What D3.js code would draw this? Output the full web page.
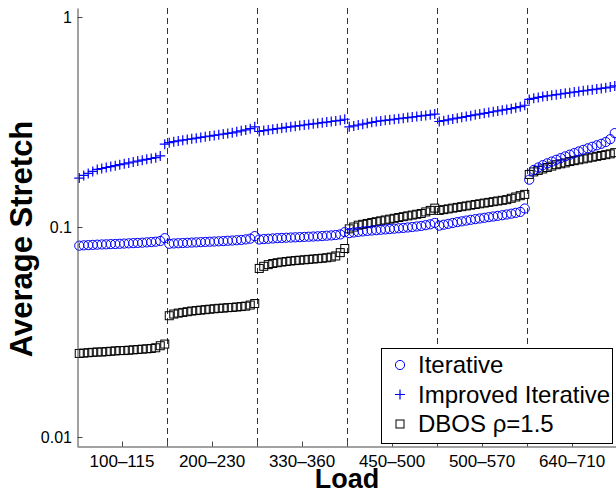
<!DOCTYPE html>
<html lang="en">
<head>
  <meta charset="UTF-8">
  <title>Average Stretch vs Load</title>
  <style>
    body {
      margin: 0;
      background-color: #fff;
      font-family: "Liberation Sans", Arial, sans-serif;
    }
    .tick-label { font-size: 16px; fill: #000; }
    .x-label { font-size: 17px; }
    .axis-title { font-weight: bold; fill: #000; }
    .legend-text { font-size: 24px; fill: #000; }
  </style>
</head>
<body>
  <svg id="chart" width="616" height="492"></svg>
  <script src="https://d3js.org/d3.v7.min.js"></script>
  <script>
    // load groups shown on the x axis
    const groups = ['100\u2013115', '200\u2013230', '330\u2013360', '450\u2013500', '500\u2013570', '640\u2013710'];
    const perGroup = 20;

    const iterative = [
      0.0815, 0.0818, 0.082, 0.0822, 0.0824, 0.0826, 0.0827, 0.0829, 0.083, 0.0832, 0.0834, 0.0836, 0.0838, 0.084, 0.0842, 0.0845, 0.0848, 0.0851, 0.0858, 0.0885,
      0.0832, 0.0835, 0.0837, 0.0839, 0.0841, 0.0843, 0.0845, 0.0847, 0.0849, 0.0851, 0.0853, 0.0855, 0.0857, 0.086, 0.0862, 0.0865, 0.0868, 0.0873, 0.088, 0.0905,
      0.0872, 0.0876, 0.0879, 0.0882, 0.0885, 0.0887, 0.0889, 0.0891, 0.0893, 0.0895, 0.0897, 0.0899, 0.0901, 0.0903, 0.0906, 0.0909, 0.0912, 0.0916, 0.0922, 0.0945,
      0.0935, 0.0942, 0.0948, 0.0953, 0.0958, 0.0962, 0.0966, 0.097, 0.0974, 0.0978, 0.0982, 0.0986, 0.099, 0.0995, 0.1, 0.1006, 0.1012, 0.102, 0.103, 0.1045,
      0.1015, 0.1025, 0.1035, 0.1045, 0.1055, 0.1064, 0.1073, 0.1082, 0.109, 0.1098, 0.1106, 0.1114, 0.1122, 0.113, 0.1138, 0.1147, 0.1157, 0.1168, 0.118, 0.1225,
      0.168, 0.187, 0.192, 0.197, 0.201, 0.205, 0.209, 0.213, 0.217, 0.221, 0.225, 0.229, 0.233, 0.237, 0.241, 0.245, 0.249, 0.254, 0.262, 0.28
    ];

    const improved = [
      0.171, 0.176, 0.18, 0.184, 0.188, 0.19, 0.192, 0.194, 0.196, 0.198, 0.2, 0.202, 0.204, 0.206, 0.208, 0.21, 0.212, 0.214, 0.218, 0.248,
      0.252, 0.255, 0.257, 0.259, 0.261, 0.263, 0.265, 0.267, 0.269, 0.271, 0.273, 0.275, 0.277, 0.279, 0.281, 0.284, 0.287, 0.29, 0.294, 0.3,
      0.285, 0.288, 0.29, 0.292, 0.294, 0.296, 0.298, 0.3, 0.302, 0.304, 0.306, 0.308, 0.31, 0.312, 0.314, 0.316, 0.318, 0.32, 0.322, 0.326,
      0.3, 0.303, 0.306, 0.309, 0.312, 0.315, 0.318, 0.32, 0.322, 0.324, 0.326, 0.328, 0.33, 0.332, 0.334, 0.336, 0.338, 0.34, 0.342, 0.345,
      0.318, 0.321, 0.324, 0.327, 0.33, 0.333, 0.336, 0.339, 0.342, 0.345, 0.348, 0.351, 0.354, 0.357, 0.36, 0.363, 0.366, 0.37, 0.374, 0.38,
      0.405, 0.41, 0.414, 0.418, 0.421, 0.424, 0.427, 0.43, 0.433, 0.436, 0.439, 0.442, 0.445, 0.448, 0.451, 0.454, 0.457, 0.46, 0.464, 0.47
    ];

    const dbos = [
      0.025, 0.0251, 0.0252, 0.0253, 0.0254, 0.0254, 0.0255, 0.0256, 0.0257, 0.0258, 0.0258, 0.0259, 0.026, 0.0261, 0.0262, 0.0263, 0.0264, 0.0266, 0.0272, 0.0277,
      0.0378, 0.0385, 0.0389, 0.0392, 0.0395, 0.0398, 0.04, 0.0402, 0.0404, 0.0406, 0.0408, 0.041, 0.0411, 0.0413, 0.0414, 0.0416, 0.0418, 0.042, 0.0425, 0.0432,
      0.0635, 0.065, 0.0662, 0.067, 0.0676, 0.0681, 0.0685, 0.0689, 0.0692, 0.0695, 0.0698, 0.0701, 0.0704, 0.0707, 0.071, 0.0714, 0.0719, 0.0728, 0.0755, 0.079,
      0.098, 0.1, 0.102, 0.103, 0.104, 0.105, 0.106, 0.107, 0.108, 0.109, 0.11, 0.111, 0.112, 0.113, 0.114, 0.115, 0.116, 0.118, 0.12, 0.123,
      0.12, 0.121, 0.122, 0.123, 0.124, 0.125, 0.126, 0.127, 0.128, 0.129, 0.13, 0.131, 0.132, 0.133, 0.134, 0.135, 0.137, 0.139, 0.141, 0.143,
      0.178, 0.183, 0.186, 0.189, 0.192, 0.195, 0.198, 0.2, 0.202, 0.205, 0.207, 0.209, 0.211, 0.213, 0.215, 0.217, 0.219, 0.221, 0.223, 0.226
    ];

    const yTicks = [0.01, 0.1, 1];
    const yTickLabels = ['0.01', '0.1', '1'];

    const plotLeft = 77, plotRight = 617, plotTop = 8, plotBottom = 446;
    const n = groups.length * perGroup;

    const x = d3.scaleLinear().domain([0.5, n + 0.5]).range([plotLeft, plotRight]);
    const y = d3.scaleLog().domain([0.00906, 1.104]).range([plotBottom, plotTop]);

    const svg = d3.select('#chart');

    // dashed separators between load groups
    const seps = d3.range(1, groups.length).map(g => g * perGroup + 0.5);
    svg.selectAll('.sep')
      .data(seps)
      .enter()
      .append('line')
      .attr('class', 'sep')
      .attr('x1', d => Math.round(x(d)) + 0.5)
      .attr('x2', d => Math.round(x(d)) + 0.5)
      .attr('y1', plotTop)
      .attr('y2', plotBottom)
      .attr('stroke', '#333')
      .attr('stroke-width', 1)
      .attr('stroke-dasharray', '6,4');

    // markers
    const plot = svg.append('g');
    const pts = arr => arr.map((v, i) => ({ i: i + 1, v }));

    plot.selectAll('.dbos')
      .data(pts(dbos))
      .enter()
      .append('rect')
      .attr('class', 'dbos')
      .attr('x', d => x(d.i) - 4)
      .attr('y', d => y(d.v) - 4)
      .attr('width', 8)
      .attr('height', 8)
      .attr('fill', 'none')
      .attr('stroke', '#000')
      .attr('stroke-width', 1);

    plot.selectAll('.iter')
      .data(pts(iterative))
      .enter()
      .append('circle')
      .attr('class', 'iter')
      .attr('cx', d => x(d.i))
      .attr('cy', d => y(d.v))
      .attr('r', 4.6)
      .attr('fill', 'none')
      .attr('stroke', '#0000ff')
      .attr('stroke-width', 1);

    plot.selectAll('.impr')
      .data(pts(improved))
      .enter()
      .append('path')
      .attr('class', 'impr')
      .attr('transform', d => `translate(${x(d.i)},${y(d.v)})`)
      .attr('d', 'M-5,0H5M0,-5V5')
      .attr('stroke', '#0000ff')
      .attr('stroke-width', 1.2);

    // axes
    const yAxis = svg.append('g')
      .attr('transform', `translate(${plotLeft + 0.5},0)`)
      .call(d3.axisRight(y).tickValues(yTicks).tickFormat('').tickSize(5).tickSizeOuter(0));
    yAxis.select('.domain').attr('stroke', '#444');
    yAxis.selectAll('.tick line').attr('stroke', '#444');

    svg.selectAll('.ylab')
      .data(yTicks)
      .enter()
      .append('text')
      .attr('class', 'tick-label')
      .attr('x', plotLeft - 5)
      .attr('y', d => y(d))
      .attr('dy', '0.35em')
      .attr('text-anchor', 'end')
      .text((d, i) => yTickLabels[i]);

    const centers = groups.map((g, k) => k * perGroup + perGroup / 2 + 0.5);
    const xAxis = svg.append('g')
      .attr('transform', `translate(0,${plotBottom + 0.5})`)
      .call(d3.axisTop(x).tickValues(centers.concat(seps)).tickFormat('').tickSize(5).tickSizeOuter(0));
    xAxis.select('.domain').attr('stroke', '#444');
    xAxis.selectAll('.tick line').attr('stroke', '#444');

    svg.selectAll('.xlab')
      .data(groups)
      .enter()
      .append('text')
      .attr('class', 'tick-label x-label')
      .attr('x', (d, k) => x(centers[k]))
      .attr('y', 467)
      .attr('text-anchor', 'middle')
      .text(d => d);

    svg.append('text')
      .attr('class', 'axis-title')
      .attr('x', 347)
      .attr('y', 488)
      .attr('font-size', 27)
      .attr('text-anchor', 'middle')
      .text('Load');

    svg.append('text')
      .attr('class', 'axis-title')
      .attr('transform', 'rotate(-90)')
      .attr('x', -239)
      .attr('y', 32)
      .attr('font-size', 31)
      .attr('text-anchor', 'middle')
      .text('Average Stretch');

    // legend
    const lg = svg.append('g');
    lg.append('rect')
      .attr('x', 381.5).attr('y', 348.5)
      .attr('width', 231).attr('height', 95)
      .attr('fill', '#fff').attr('stroke', '#000');

    const legendItems = [
      { label: 'Iterative', kind: 'circle' },
      { label: 'Improved Iterative', kind: 'plus' },
      { label: 'DBOS \u03c1=1.5', kind: 'square' }
    ];
    legendItems.forEach((item, k) => {
      const cy = 365 + k * 29.5;
      if (item.kind === 'circle') {
        lg.append('circle').attr('cx', 400).attr('cy', cy).attr('r', 4.6)
          .attr('fill', 'none').attr('stroke', '#0000ff');
      } else if (item.kind === 'plus') {
        lg.append('path').attr('transform', `translate(400,${cy})`)
          .attr('d', 'M-5,0H5M0,-5V5').attr('stroke', '#0000ff').attr('stroke-width', 1.2);
      } else {
        lg.append('rect').attr('x', 396).attr('y', cy - 4).attr('width', 8).attr('height', 8)
          .attr('fill', 'none').attr('stroke', '#000');
      }
      lg.append('text')
        .attr('class', 'legend-text')
        .attr('x', 418)
        .attr('y', cy)
        .attr('dy', '0.35em')
        .text(item.label);
    });
  </script>
</body>
</html>
